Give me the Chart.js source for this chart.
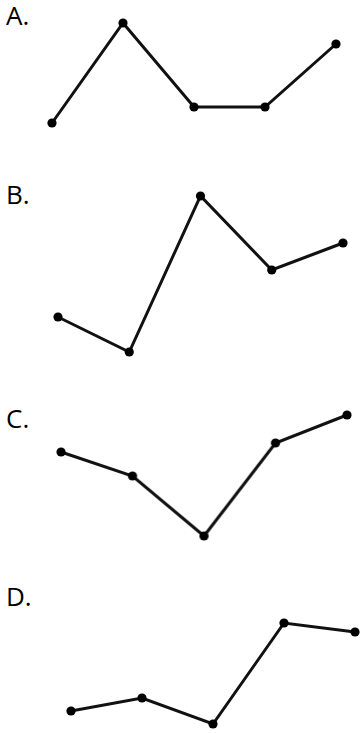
<!DOCTYPE html>
<html>
<head>
<meta charset="utf-8">
<script src="https://cdn.jsdelivr.net/npm/chart.js@4"></script>
<style>
  html, body { margin: 0; padding: 0; background: #fff; }
  body { width: 361px; height: 733px; position: relative; overflow: hidden; }
  .lbl { position: absolute; font-family: "Open Sans", sans-serif; font-size: 26px; line-height: 26px; color: #000; }
  canvas { position: absolute; }
</style>
</head>
<body>
<div class="lbl" style="left:6px; top:2px;">A.</div>
<div class="lbl" style="left:6px; top:181px;">B.</div>
<div class="lbl" style="left:6px; top:405px;">C.</div>
<div class="lbl" style="left:6px; top:583px;">D.</div>
<canvas id="cA"></canvas>
<canvas id="cB"></canvas>
<canvas id="cC"></canvas>
<canvas id="cD"></canvas>
<script>
// Categories (five time points, unlabeled in the picture)
const categories = ["1", "2", "3", "4", "5"];
// Series values
const seriesA = [0.7, 10.7, 2.3, 2.3, 8.6];
const seriesB = [4.3, 0.8, 16.4, 9.0, 11.7];
const seriesC = [8.8, 6.4, 0.4, 9.7, 12.5];
const seriesD = [1.9, 3.2, 0.6, 10.7, 9.8];
// Option labels
const optionLabels = ["A.", "B.", "C.", "D."];

const PAD = 6;
function makeChart(id, data, area, yMax) {
  const cv = document.getElementById(id);
  const w = area.right - area.left + 2 * PAD;
  const h = area.bottom - area.top + 2 * PAD;
  cv.width = w; cv.height = h;
  cv.style.left = (area.left - PAD) + "px";
  cv.style.top = (area.top - PAD) + "px";
  cv.style.width = w + "px"; cv.style.height = h + "px";
  new Chart(cv, {
    type: "line",
    data: {
      labels: categories,
      datasets: [{
        data: data,
        borderColor: "#111",
        backgroundColor: "#000",
        borderWidth: 3,
        pointRadius: 4.6,
        pointBorderWidth: 0,
        pointBackgroundColor: "#000",
        tension: 0,
        clip: false
      }]
    },
    options: {
      responsive: false,
      animation: false,
      devicePixelRatio: 1,
      layout: { padding: PAD },
      plugins: { legend: { display: false }, tooltip: { enabled: false } },
      scales: {
        x: { display: false, offset: false },
        y: { display: false, min: 0, max: yMax }
      }
    }
  });
}
makeChart("cA", seriesA, { left: 51.7, right: 336, top: 20, bottom: 130 }, 11);
makeChart("cB", seriesB, { left: 58.3, right: 343.3, top: 190, bottom: 360 }, 17);
makeChart("cC", seriesC, { left: 61, right: 346.7, top: 410, bottom: 540 }, 13);
makeChart("cD", seriesD, { left: 70.7, right: 355, top: 615, bottom: 730 }, 11.5);
</script>
</body>
</html>
